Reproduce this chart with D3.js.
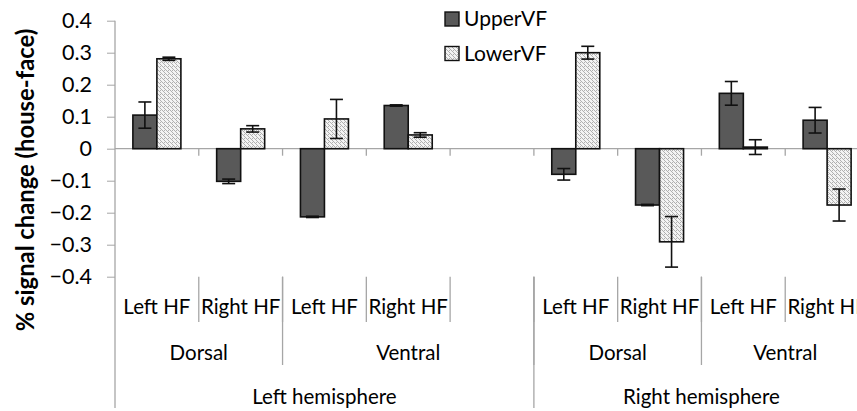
<!DOCTYPE html>
<html>
<head>
<meta charset="utf-8">
<script src="https://cdn.jsdelivr.net/npm/d3@7"></script>
<style>
  html, body { margin: 0; padding: 0; background: #fff; overflow: hidden; }
  svg { display: block; font-family: Lato, "Open Sans", sans-serif; }
</style>
</head>
<body>
<div id="chart"></div>
<script>
// category levels (9 slots, slot 4 is an empty spacer inside left ventral)
const hfLabels = ["Left HF", "Right HF", "Left HF", "Right HF", "", "Left HF", "Right HF", "Left HF", "Right HF"];
const streamLabels = ["Dorsal", "Dorsal", "Ventral", "Ventral", "Ventral", "Dorsal", "Dorsal", "Ventral", "Ventral"];
const hemiLabels = ["Left hemisphere", "Left hemisphere", "Left hemisphere", "Left hemisphere", "Left hemisphere",
  "Right hemisphere", "Right hemisphere", "Right hemisphere", "Right hemisphere"];

const seriesNames = ["UpperVF", "LowerVF"];
const upperVF = [0.105, -0.102, -0.213, 0.135, null, -0.080, -0.176, 0.173, 0.089];
const upperErr = [0.041, 0.007, 0.002, 0.002, null, 0.018, 0.002, 0.037, 0.040];
const lowerVF = [0.281, 0.062, 0.093, 0.043, null, 0.300, -0.291, 0.005, -0.176];
const lowerErr = [0.005, 0.010, 0.061, 0.007, null, 0.020, 0.079, 0.023, 0.050];

const yTicks = [0.4, 0.3, 0.2, 0.1, 0, -0.1, -0.2, -0.3, -0.4];

const width = 857, height = 411;
const axisColor = "#a6a6a6";

const svg = d3.select("#chart").append("svg")
  .attr("width", width)
  .attr("height", height);

const defs = svg.append("defs");
const pat = defs.append("pattern")
  .attr("id", "hatch")
  .attr("patternUnits", "userSpaceOnUse")
  .attr("width", 4).attr("height", 4);
pat.append("rect").attr("width", 4).attr("height", 4).attr("fill", "#f3f3f3");
pat.append("path")
  .attr("d", "M-1,1 l2,2 M0,0 l4,4 M3,-1 l2,2")
  .attr("stroke", "#b0b0b0")
  .attr("stroke-width", 1);

const slots = d3.range(hfLabels.length);
const x = d3.scaleBand().domain(slots).range([115, 869]).paddingInner(0).paddingOuter(0);
const xInner = d3.scaleBand().domain(seriesNames).range([0, x.bandwidth()]).paddingInner(0).paddingOuter(0.745);
const y = d3.scaleLinear().domain([-0.4, 0.4]).range([276.7, 20.7]);

// y axis
const yAxis = d3.axisLeft(y).tickValues(yTicks).tickSize(8)
  .tickFormat(d => d === 0 ? "0" : d3.format(".1f")(d));
const gy = svg.append("g").attr("transform", `translate(${x.range()[0]},0)`).call(yAxis);
gy.select(".domain").remove();
gy.selectAll(".tick line").attr("stroke", axisColor);
gy.selectAll(".tick text").attr("fill", "#000").attr("font-size", 21.5).attr("x", -23)
  .attr("font-family", "Lato, sans-serif");
svg.append("line")
  .attr("x1", x.range()[0]).attr("x2", x.range()[0])
  .attr("y1", y(0.4)).attr("y2", 408)
  .attr("stroke", axisColor).attr("stroke-width", 1.3);

// zero line with ticks
svg.append("line")
  .attr("x1", x.range()[0]).attr("x2", width)
  .attr("y1", y(0)).attr("y2", y(0))
  .attr("stroke", axisColor).attr("stroke-width", 1.3);
svg.append("g").selectAll("line")
  .data(slots.slice(1))
  .join("line")
  .attr("x1", d => x(d)).attr("x2", d => x(d))
  .attr("y1", y(0)).attr("y2", y(0) + 7)
  .attr("stroke", axisColor).attr("stroke-width", 1.3);

// bars
const bars = [];
slots.forEach(i => {
  if (upperVF[i] !== null) bars.push({ slot: i, s: "UpperVF", v: upperVF[i], e: upperErr[i] });
  if (lowerVF[i] !== null) bars.push({ slot: i, s: "LowerVF", v: lowerVF[i], e: lowerErr[i] });
});

svg.append("g").selectAll("rect")
  .data(bars)
  .join("rect")
  .attr("x", d => x(d.slot) + xInner(d.s))
  .attr("width", xInner.bandwidth())
  .attr("y", d => y(Math.max(0, d.v)))
  .attr("height", d => Math.abs(y(d.v) - y(0)))
  .attr("fill", d => d.s === "UpperVF" ? "#595959" : "url(#hatch)")
  .attr("stroke", "#111")
  .attr("stroke-width", 1.6);

// error bars
const eb = svg.append("g").attr("stroke", "#111").attr("stroke-width", 1.6);
bars.forEach(d => {
  const cx = x(d.slot) + xInner(d.s) + xInner.bandwidth() / 2;
  const cap = 6.5;
  eb.append("line").attr("x1", cx).attr("x2", cx).attr("y1", y(d.v + d.e)).attr("y2", y(d.v - d.e));
  eb.append("line").attr("x1", cx - cap).attr("x2", cx + cap).attr("y1", y(d.v + d.e)).attr("y2", y(d.v + d.e));
  eb.append("line").attr("x1", cx - cap).attr("x2", cx + cap).attr("y1", y(d.v - d.e)).attr("y2", y(d.v - d.e));
});

// multi-level category axis
const lab = svg.append("g").attr("font-size", 20.5).attr("fill", "#000").attr("text-anchor", "middle");
const divTop = y(-0.4);

function groups(labels, keyFn) {
  const out = [];
  slots.forEach(i => {
    const k = keyFn(i);
    const last = out[out.length - 1];
    if (last && last.key === k) last.end = i;
    else out.push({ key: k, label: labels[i], start: i, end: i });
  });
  return out;
}

const levels = [
  { g: groups(hfLabels, i => i), textY: 307, bottom: 322 },
  { g: groups(streamLabels, i => hemiLabels[i] + streamLabels[i]), textY: 353, bottom: 365 },
  { g: groups(hemiLabels, i => hemiLabels[i]), textY: 397, bottom: 408 }
];

levels.forEach(lv => {
  lv.g.forEach(gr => {
    const x0 = x(gr.start), x1 = x(gr.end) + x.bandwidth();
    lab.append("text")
      .attr("x", (x0 + x1) / 2)
      .attr("y", lv.textY)
      .attr("dy", "0.35em")
      .text(gr.label);
    if (gr.start > 0) {
      svg.append("line")
        .attr("x1", x0).attr("x2", x0)
        .attr("y1", divTop).attr("y2", lv.bottom)
        .attr("stroke", axisColor).attr("stroke-width", 1.3);
    }
  });
});

// y title
svg.append("text")
  .attr("transform", "translate(26,180) rotate(-90)")
  .attr("text-anchor", "middle")
  .attr("dy", "0.35em")
  .attr("font-size", 23.8)
  .attr("font-weight", "bold")
  .text("% signal change (house-face)");

// legend
const leg = svg.append("g").attr("transform", "translate(445,0)");
seriesNames.forEach((s, i) => {
  const cy = 19 + i * 34.5;
  leg.append("rect")
    .attr("x", 0).attr("y", cy - 7)
    .attr("width", 14).attr("height", 14)
    .attr("fill", s === "UpperVF" ? "#595959" : "url(#hatch)")
    .attr("stroke", "#111").attr("stroke-width", 1.4);
  leg.append("text")
    .attr("x", 19).attr("y", cy).attr("dy", "0.35em")
    .attr("font-size", 21)
    .text(s);
});
</script>
</body>
</html>
